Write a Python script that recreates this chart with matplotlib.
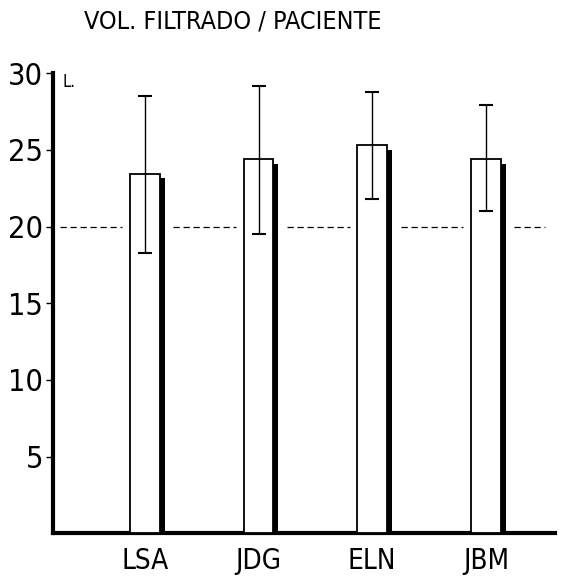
import matplotlib
matplotlib.use('Agg')
import matplotlib.pyplot as plt
import numpy as np

# values
pacientes = ['LSA', 'JDG', 'ELN', 'JBM']
volumen = [23.45, 24.4, 25.3, 24.4]
err_sup = [28.5, 29.2, 28.8, 27.9]
err_inf = [18.3, 19.5, 21.8, 21.0]
referencia = 20
y_ticks = [5, 10, 15, 20, 25, 30]

plt.rcParams['font.family'] = ['DejaVu Sans']
plt.rcParams['font.stretch'] = 'condensed'

fig = plt.figure(figsize=(5.62, 5.77), dpi=100)
ax = fig.add_axes([0.094, 0.076, 0.894, 0.797])

x = np.arange(len(pacientes))
vol = np.array(volumen)

# reference dashed line, broken around the bars
starts = np.concatenate([[-0.75], x + 0.25])
ends = np.concatenate([x - 0.2, [3.52]])
ax.hlines([referencia] * len(starts), starts, ends, colors='black', lw=0.9,
          linestyles=(0, (5, 3)), zorder=1)

# shadow on the right side of each bar
ax.bar(x + 0.13 + 0.022, vol - 0.3, width=0.045, color='black', zorder=2)
ax.bar(x, vol, width=0.26, color='white', edgecolor='black', lw=1.3, zorder=3)

ax.errorbar(x, vol, yerr=[vol - np.array(err_inf), np.array(err_sup) - vol],
            fmt='none', ecolor='black', elinewidth=1.0, capsize=5, capthick=1.5, zorder=4)

ax.set_xlim(-0.81, 3.61)
ax.set_ylim(0, 30)
ax.set_yticks(y_ticks)
ax.set_yticklabels([str(t) for t in y_ticks], fontsize=22)
ax.set_xticks(x)
ax.set_xticklabels(pacientes, fontsize=20)
ax.tick_params(axis='x', length=0, pad=10)
ax.tick_params(axis='y', length=5, width=1, direction='out', pad=2)

for s in ['top', 'right']:
    ax.spines[s].set_visible(False)
ax.spines['left'].set_linewidth(3)
ax.spines['bottom'].set_linewidth(3)

ax.text(0.02, 1.0, 'L.', transform=ax.transAxes, fontsize=12, va='top', ha='left')
fig.text(0.415, 0.962, 'VOL. FILTRADO / PACIENTE', fontsize=18, ha='center', va='center')

fig.savefig('out.png', dpi=100)
